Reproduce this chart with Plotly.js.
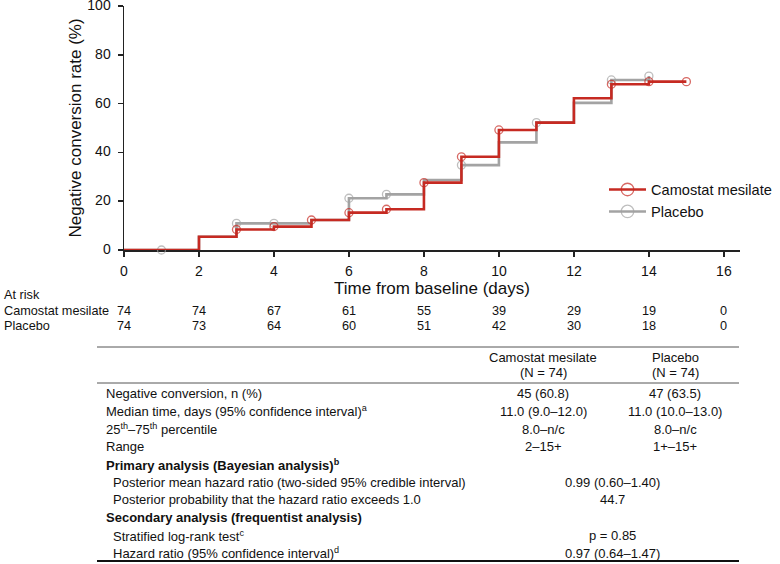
<!DOCTYPE html>
<html><head><meta charset="utf-8">
<script src="https://cdn.plot.ly/plotly-3.0.1.min.js"></script>
<style>html,body{margin:0;padding:0;background:#fff}#chart{width:780px;height:564px}</style>
</head><body><div id="chart"></div>
<script>
// ---- data ----
const seriesNames = ['Camostat mesilate', 'Placebo'];
const camTimes = [0, 2, 3, 4, 5, 6, 7, 8, 9, 10, 11, 12, 13, 14, 15];
const camRate  = [0, 5.4, 8.4, 9.6, 12.3, 15.3, 16.7, 27.6, 38.2, 49.2, 52.2, 62.2, 67.9, 69.0, 69.0];
const plaTimes = [0, 2, 3, 5, 6, 7, 8, 9, 10, 11, 12, 13, 14];
const plaRate  = [0, 5.4, 10.9, 12.3, 21.2, 22.8, 28.7, 34.8, 44.1, 52.2, 60.3, 69.7, 71.3];
const camCensor = [3, 4, 5, 6, 7, 8, 9, 10, 13, 14, 15];
const plaCensor = [1, 3, 4, 6, 7, 9, 11, 13, 14];
const xTicks = [0, 2, 4, 6, 8, 10, 12, 14, 16];
const yTicks = [0, 20, 40, 60, 80, 100];
const riskTimes = [0, 2, 4, 6, 8, 10, 12, 14, 16];
const camRisk = [74, 74, 67, 61, 55, 39, 29, 19, 0];
const plaRisk = [74, 73, 64, 60, 51, 42, 30, 18, 0];
const headerNames = ['Camostat mesilate', 'Placebo'];
const headerN = ['(N = 74)', '(N = 74)'];
const rowLabels = [
  'Negative conversion, n (%)',
  'Median time, days (95% confidence interval)<sup>a</sup>',
  '25<sup>th</sup>–75<sup>th</sup> percentile',
  'Range',
  '<b>Primary analysis (Bayesian analysis)<sup>b</sup></b>',
  'Posterior mean hazard ratio (two-sided 95% credible interval)',
  'Posterior probability that the hazard ratio exceeds 1.0',
  '<b>Secondary analysis (frequentist analysis)</b>',
  'Stratified log-rank test<sup>c</sup>',
  'Hazard ratio (95% confidence interval)<sup>d</sup>'
];
const rowIndented = [false, false, false, false, false, true, true, false, true, true];
const camValues = ['45 (60.8)', '11.0 (9.0–12.0)', '8.0–n/c', '2–15+', '', '', '', '', '', ''];
const plaValues = ['47 (63.5)', '11.0 (10.0–13.0)', '8.0–n/c', '1+–15+', '', '', '', '', '', ''];
const pooledValues = ['', '', '', '', '', '0.99 (0.60–1.40)', '44.7', '', 'p = 0.85', '0.97 (0.64–1.47)'];

// ---- helpers ----
const W = 780, H = 564;
const px = x => x / W;
const py = y => 1 - y / H;
const FONT = 'Liberation Sans, Arial, sans-serif';
const RED = '#c62a22', GREY = '#a3a3a3';

function stepAt(times, rates, t) {
  let v = rates[0];
  for (let i = 0; i < times.length; i++) if (times[i] <= t) v = rates[i];
  return v;
}
function stepTrace(times, rates, color) {
  return {x: times, y: rates, type: 'scatter', mode: 'lines', line: {shape: 'hv', color: color, width: 2.6},
          showlegend: false, hoverinfo: 'skip', cliponaxis: false};
}
function censorTrace(times, rates, censor, name, color) {
  const xs = [], ys = [], ss = [];
  const n = censor.length, real = 8, target = 12.5;
  const gap = (target * (2 * n - 1) - real * n) / (n - 1);
  censor.forEach((t, i) => {
    if (i) { xs.push(null); ys.push(null); ss.push(gap); }
    xs.push(t); ys.push(stepAt(times, rates, t)); ss.push(real);
  });
  return {x: xs, y: ys, name: name, type: 'scatter', mode: 'lines+markers', connectgaps: false,
          line: {color: color, width: 2.6},
          marker: {symbol: 'circle-open', size: ss, color: color, line: {width: 1.3, color: color}},
          cliponaxis: false, hoverinfo: 'skip'};
}

const data = [
  stepTrace(plaTimes, plaRate, GREY),
  censorTrace(plaTimes, plaRate, plaCensor, seriesNames[1], GREY),
  stepTrace(camTimes, camRate, RED),
  censorTrace(camTimes, camRate, camCensor, seriesNames[0], RED)
];

const ann = [];
const txt = (x, y, text, opts) => Object.assign({x: x, y: y, xref: 'paper', yref: 'paper', text: text,
  showarrow: false, xanchor: 'left', yanchor: 'middle', font: {family: FONT, size: 13, color: '#111'}}, opts || {});

// at-risk table
const riskFont = {family: FONT, size: 12.7, color: '#111'};
ann.push(txt(px(2), py(294.5), 'At risk', {font: riskFont}));
ann.push(txt(px(2), py(311), seriesNames[0], {font: riskFont}));
ann.push(txt(px(2), py(326), seriesNames[1], {font: riskFont}));
riskTimes.forEach((t, i) => {
  ann.push({x: t, xref: 'x', y: py(311), yref: 'paper', text: String(camRisk[i]), showarrow: false,
    xanchor: 'center', yanchor: 'middle', font: riskFont});
  ann.push({x: t, xref: 'x', y: py(326), yref: 'paper', text: String(plaRisk[i]), showarrow: false,
    xanchor: 'center', yanchor: 'middle', font: riskFont});
});

// summary table
const colCam = 543, colPla = 675, colPool = 612;
ann.push(txt(px(colCam), py(357), headerNames[0], {xanchor: 'center'}));
ann.push(txt(px(colCam), py(372), headerN[0], {xanchor: 'center'}));
ann.push(txt(px(colPla), py(357), headerNames[1], {xanchor: 'center'}));
ann.push(txt(px(colPla), py(372), headerN[1], {xanchor: 'center'}));
rowLabels.forEach((lab, i) => {
  const y = py(393.5 + i * 17.75);
  ann.push(txt(px(rowIndented[i] ? 111 : 104), y, lab));
  if (camValues[i]) ann.push(txt(px(colCam), y, camValues[i], {xanchor: 'center'}));
  if (plaValues[i]) ann.push(txt(px(colPla), y, plaValues[i], {xanchor: 'center'}));
  if (pooledValues[i]) ann.push(txt(px(colPool), y, pooledValues[i], {xanchor: 'center'}));
});

const shapes = [
  {type: 'line', xref: 'paper', yref: 'paper', x0: px(97), x1: px(739), y0: py(347), y1: py(347), line: {color: '#555', width: 1}},
  {type: 'line', xref: 'paper', yref: 'paper', x0: px(97), x1: px(739), y0: py(383), y1: py(383), line: {color: '#555', width: 1}},
  {type: 'line', xref: 'paper', yref: 'paper', x0: px(97), x1: px(739), y0: py(561), y1: py(561), line: {color: '#111', width: 2}}
];

const axisCommon = {showline: true, linecolor: '#222', linewidth: 1.5, ticks: 'outside', ticklen: 5, tickwidth: 1.5,
  tickcolor: '#222', showgrid: false, zeroline: false, fixedrange: true, layer: 'below traces',
  ticklabeloverflow: 'allow', tickfont: {family: FONT, size: 14, color: '#111'}};

const layout = {
  width: W, height: H, margin: {l: 0, r: 0, t: 0, b: 0}, paper_bgcolor: '#fff', plot_bgcolor: '#fff',
  font: {family: FONT, color: '#111'},
  hovermode: false,
  xaxis: Object.assign({}, axisCommon, {domain: [px(124), px(740)], range: [0, 16.43], tickvals: xTicks,
    ticktext: xTicks.map(String), ticklabelstandoff: 3,
    title: {text: 'Time from baseline (days)', font: {family: FONT, size: 17, color: '#111'}, standoff: 3}}),
  yaxis: Object.assign({}, axisCommon, {domain: [py(250), py(6)], range: [0, 100], tickvals: yTicks,
    ticktext: yTicks.map(String), ticklabelstandoff: 4, ticklabelshift: -1,
    title: {text: 'Negative conversion rate (%)', font: {family: FONT, size: 17, color: '#111'}, standoff: 1}}),
  showlegend: true,
  legend: {x: px(604), y: py(173.5), xanchor: 'left', yanchor: 'top', traceorder: 'reversed',
    font: {family: FONT, size: 14.6, color: '#111'}, bgcolor: 'rgba(0,0,0,0)', itemwidth: 37},
  annotations: ann,
  shapes: shapes
};

Plotly.newPlot('chart', data, layout, {displayModeBar: false, staticPlot: true});
</script></body></html>
